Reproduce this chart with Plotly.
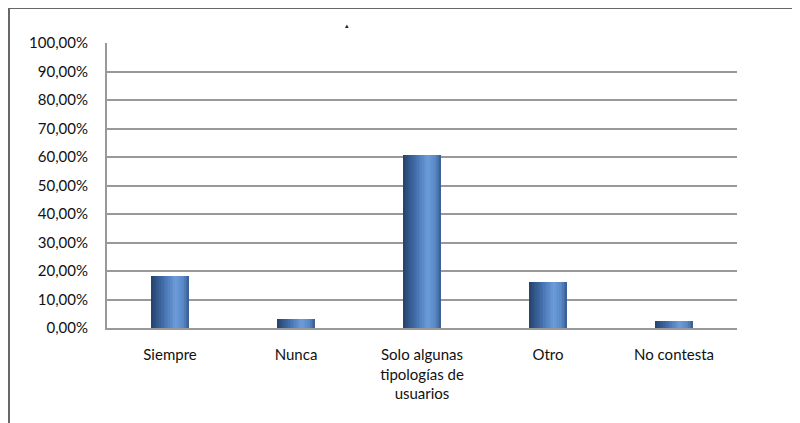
import plotly.graph_objects as go

categories = ["Siempre", "Nunca", "Solo algunas<br>tipologías de<br>usuarios", "Otro", "No contesta"]
values = [0.182, 0.032, 0.607, 0.161, 0.023]
y_ticks = [0.0, 0.1, 0.2, 0.3, 0.4, 0.5, 0.6, 0.7, 0.8, 0.9, 1.0]

# cylinder-like shading key colours across the bar width (left -> right)
key_colors = [(0.0, (36, 66, 108)), (0.35, (69, 113, 175)), (0.65, (108, 157, 218)),
              (0.85, (88, 135, 197)), (1.0, (56, 92, 146))]


def shade_at(t):
    for (t0, c0), (t1, c1) in zip(key_colors[:-1], key_colors[1:]):
        if t0 <= t <= t1:
            f = (t - t0) / (t1 - t0)
            return "rgb(%d,%d,%d)" % tuple(round(a + (b - a) * f) for a, b in zip(c0, c1))
    return "rgb(%d,%d,%d)" % key_colors[-1][1]


bar_w = 0.30
n = 24
strip = bar_w / n

fig = go.Figure()
for i in range(n):
    fig.add_trace(go.Bar(
        x=categories, y=values,
        width=bar_w - i * strip, offset=-bar_w / 2 + i * strip,
        marker=dict(color=shade_at((i + 0.5) / n), line=dict(width=0)),
        showlegend=False, hoverinfo="skip"))

fig.update_layout(
    width=792, height=415,
    margin=dict(l=99, r=63, t=35, b=95),
    paper_bgcolor="white", plot_bgcolor="white",
    barmode="overlay", bargap=0,
    separators=",.",
    font=dict(family="Lato, Open Sans, sans-serif", size=15, color="#111"),
    xaxis=dict(showgrid=False, showline=True, linecolor="#999", linewidth=2,
               ticks="", ticklabelstandoff=12, tickfont=dict(size=15)),
    yaxis=dict(range=[0, 1.0], tickvals=y_ticks, tickformat=".2%",
               showgrid=True, gridcolor="#999", gridwidth=2,
               showline=True, linecolor="#999", linewidth=2,
               ticks="", ticklabelstandoff=14, zeroline=False, tickfont=dict(size=15)),
    shapes=[
        dict(type="line", xref="paper", yref="paper", x0=-0.1556, x1=1.2,
             y0=1.1228, y1=1.1228, line=dict(color="#666", width=2)),
        dict(type="line", xref="paper", yref="paper", x0=-0.1556, x1=-0.1556,
             y0=1.1228, y1=-0.34, line=dict(color="#666", width=2)),
    ],
    annotations=[dict(text="▴", xref="paper", yref="paper", x=0.381, y=1.085,
                      showarrow=False, font=dict(size=7, color="#222"))],
)

fig.write_html("out.html")
